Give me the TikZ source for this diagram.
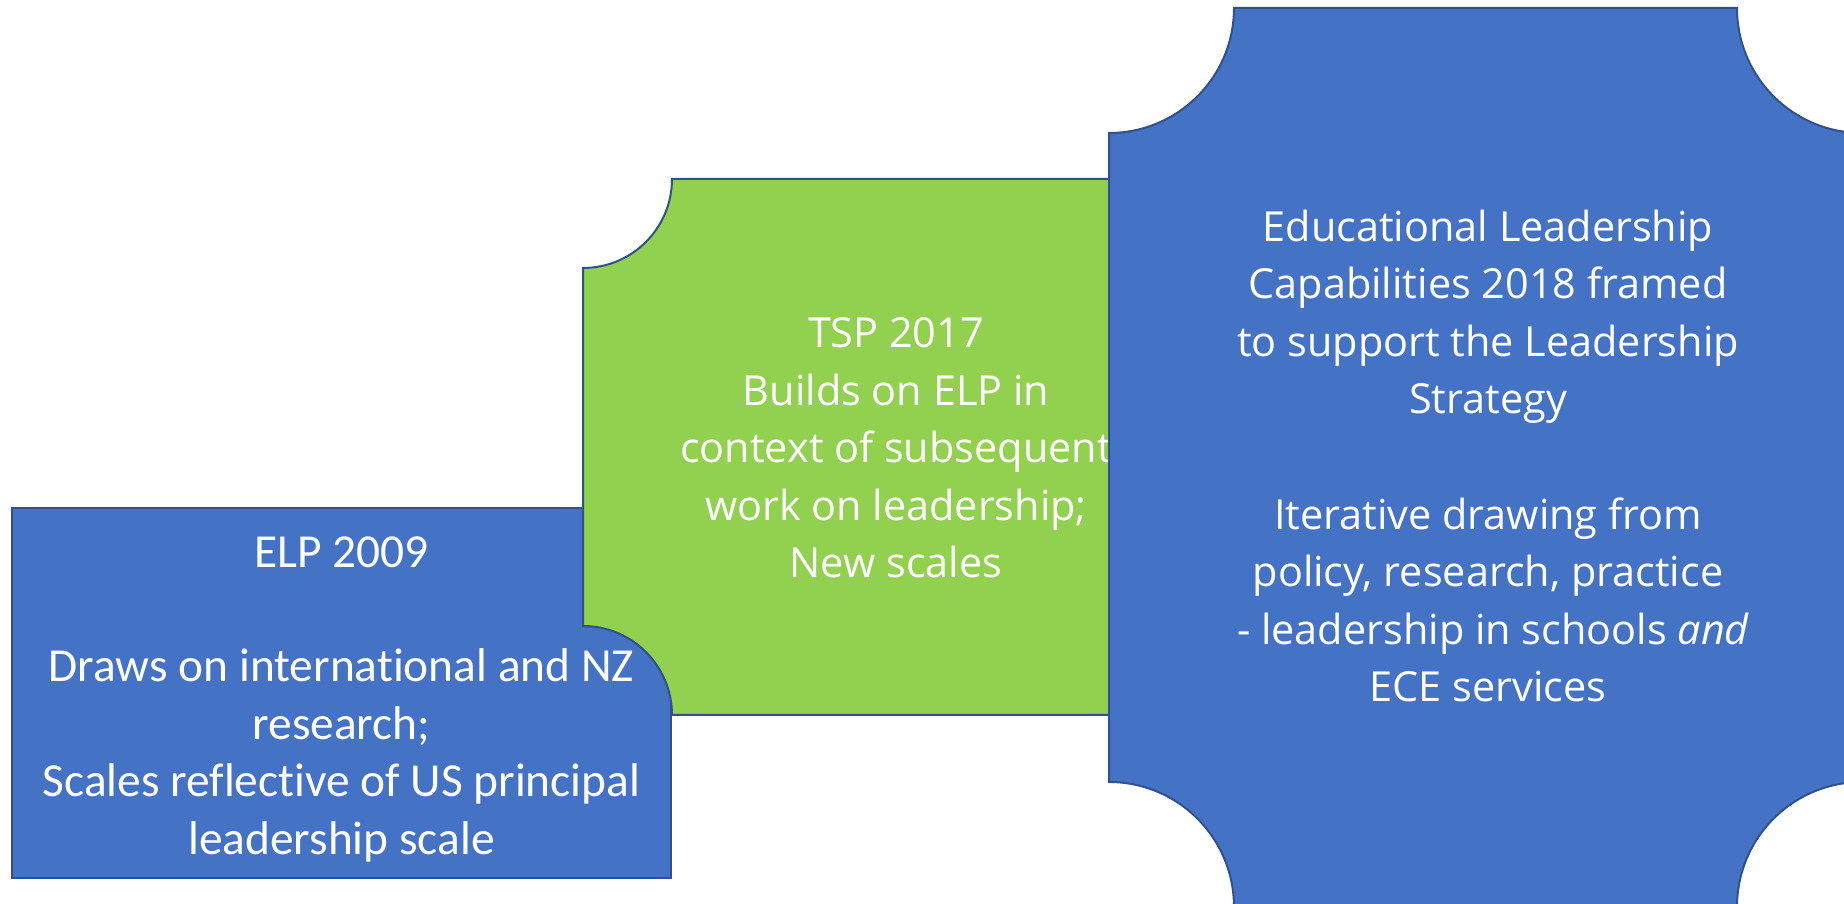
\documentclass[tikz,border=0pt]{standalone}
\usepackage{fontspec}
\setmainfont{Carlito}[Ligatures=NoCommon]
\newfontfamily\uisans{Open Sans}

\definecolor{accentblue}{HTML}{4472C4}
\definecolor{accentgreen}{HTML}{92D050}
\definecolor{edgeblue}{HTML}{2F528F}

% plaque outline with concave corners: left, bottom, right, top, notch radius
\newcommand{\plaque}[5]{(#1+#5,#4) -- (#3-#5,#4) arc[start angle=180,end angle=270,radius=#5]
  -- (#3,#2+#5) arc[start angle=90,end angle=180,radius=#5]
  -- (#1+#5,#2) arc[start angle=0,end angle=90,radius=#5]
  -- (#1,#4-#5) arc[start angle=270,end angle=360,radius=#5] -- cycle}

\tikzset{
  panel/.style={draw=edgeblue, line width=1pt},
  caption/.style={text=white, align=center, inner sep=0pt},
}

\begin{document}
\begin{tikzpicture}[x=0.5pt,y=0.5pt]
\useasboundingbox (0,0) rectangle (1844,904);

% ELP 2009
\path[panel, fill=accentblue] (12,26) rectangle (671,396);
\node[caption, font=\fontsize{23.7}{28.7}\selectfont] (elp) at (341.5,205)
  {ELP 2009\\~\\Draws on international and NZ\\research;\\Scales reflective of US principal\\leadership scale};

% TSP 2017
\path[panel, fill=accentgreen] \plaque{583}{189}{1209}{725}{89};
\node[caption, font=\uisans\fontsize{20.7}{28.8}\selectfont] (tsp) at (896,456)
  {TSP 2017\\Builds on ELP in\\context of subsequent\\work on leadership;\\New scales};

% Leadership Capabilities 2018
\path[panel, fill=accentblue] \plaque{1109}{-3}{1862}{896}{125};
\node[caption, font=\uisans\fontsize{20.7}{28.8}\selectfont] (elc) at (1488,448)
  {Educational Leadership\\Capabilities 2018 framed\\to support the Leadership\\Strategy\\~\\Iterative drawing from\\policy, research, practice\\\ - leadership in schools \textit{and}\\ECE services};

\end{tikzpicture}
\end{document}
